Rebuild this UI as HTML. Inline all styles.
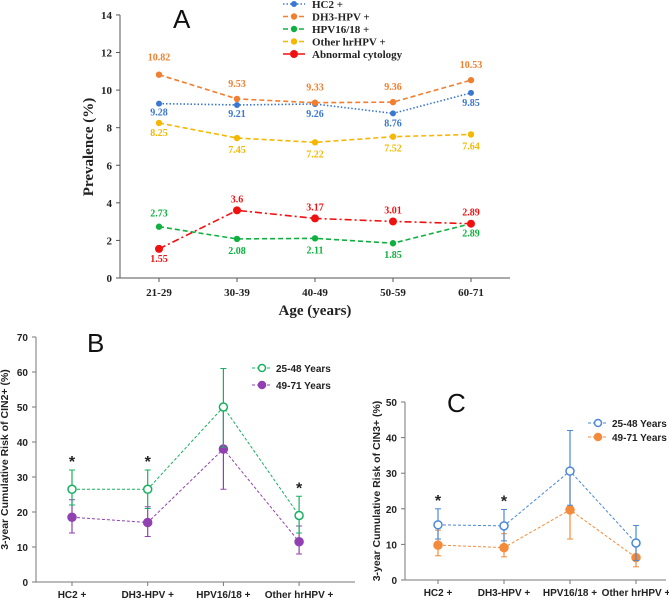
<!DOCTYPE html>
<html><head><meta charset="utf-8"><style>
body{margin:0;background:#fff}
svg{display:block}
.ser{font-family:"Liberation Serif",serif;font-weight:bold}
.san{font-family:"Liberation Sans",sans-serif;font-weight:bold}
</style></head><body>
<svg id="s" width="669" height="600" viewBox="0 0 669 600"></svg>
<script>
// Panel A data
const ageCats=["21-29","30-39","40-49","50-59","60-71"];
const hc2=[9.28,9.21,9.26,8.76,9.85];
const dh3=[10.82,9.53,9.33,9.36,10.53];
const hpv1618=[2.73,2.08,2.11,1.85,2.89];
const otherHr=[8.25,7.45,7.22,7.52,7.64];
const abnCyt=[1.55,3.6,3.17,3.01,2.89];
const aTicks=[0,2,4,6,8,10,12,14];
// Panels B/C
const testCats=["HC2 +","DH3-HPV +","HPV16/18 +","Other hrHPV +"];
const bYoung=[26.5,26.5,50,19];
const bYoungLo=[22,21,38.5,14];
const bYoungHi=[32,32,61,24.5];
const bOld=[18.5,17,38,11.5];
const bOldLo=[14,13,26.5,8];
const bOldHi=[23.5,21.5,49,16];
const bTicks=[0,10,20,30,40,50,60,70];
const cYoung=[15.5,15.2,30.6,10.4];
const cYoungLo=[11.5,11,21,5.5];
const cYoungHi=[20,19.8,42,15.3];
const cOld=[9.8,9.1,19.7,6.3];
const cOldLo=[6.8,6.5,11.5,3.7];
const cOldHi=[14,13,30,9.8];
const cTicks=[0,10,20,30,40,50];

const S=document.getElementById('s');const NS="http://www.w3.org/2000/svg";
function el(t,a,txt){const e=document.createElementNS(NS,t);for(const k in a)e.setAttribute(k,a[k]);if(txt!==undefined)e.textContent=txt;S.appendChild(e);return e;}

// ---- Panel A ----
const ax=i=>159+i*78, ay=v=>278-v*18.79;
let e=el('line',{x1:120,y1:15,x2:120,y2:278,stroke:'#555'});

e=el('line',{x1:120,y1:278,x2:510,y2:278,stroke:'#555'});

aTicks.forEach(t=>{el('line',{x1:116,x2:120,y1:ay(t),y2:ay(t),stroke:'#555'});
 e=el('text',{x:112,y:ay(t)+4,'text-anchor':'end','font-size':11,class:'ser',fill:'#222'},t);
 });
ageCats.forEach((c,i)=>{el('line',{x1:ax(i),x2:ax(i),y1:278,y2:282,stroke:'#555'});
 e=el('text',{x:ax(i),y:296,'text-anchor':'middle','font-size':11,class:'ser',fill:'#222'},c);
 });
e=el('text',{x:315,y:315,'text-anchor':'middle','font-size':15,class:'ser',fill:'#222'},'Age (years)');

e=el('text',{x:0,y:0,'text-anchor':'middle','font-size':15,class:'ser',fill:'#222',transform:'translate(93,147) rotate(-90)'},'Prevalence (%)');

e=el('text',{x:173,y:28,'font-size':26,'font-family':'Liberation Sans,sans-serif',fill:'#111'},'A');

const aSeries=[
 {d:hc2,c:'#3a78d0',dash:'1.5,2',r:3,name:'hc2',lab:'HC2 +',off:[12,12,13,13,13]},
 {d:dh3,c:'#f08030',dash:'5,3',r:3.2,name:'dh3',lab:'DH3-HPV +',off:[-14,-12,-12,-12,-12]},
 {d:hpv1618,c:'#10b040',dash:'5,3',r:3.2,name:'hpv1618',lab:'HPV16/18 +',off:[-10,15,15,15,13]},
 {d:otherHr,c:'#f5b800',dash:'5,3',r:3.2,name:'other-hrhpv',lab:'Other hrHPV +',off:[13,15,15,15,15]},
 {d:abnCyt,c:'#f01010',dash:'7,3,2,3',r:4,name:'abnormal-cytology',lab:'Abnormal cytology',off:[13,-8,-8,-8,-8]}];
aSeries.forEach((s,k)=>{
 const pts=s.d.map((v,i)=>ax(i)+','+ay(v)).join(' ');
 e=el('polyline',{points:pts,fill:'none',stroke:s.c,'stroke-width':1.6,'stroke-dasharray':s.dash});
 
 s.d.forEach((v,i)=>{e=el('circle',{cx:ax(i),cy:ay(v),r:s.r,fill:s.c});
  
  e=el('text',{x:ax(i),y:ay(v)+s.off[i]+(s.off[i]>0?0:0),'text-anchor':'middle','font-size':10,class:'ser',fill:s.c},v);
  });
 const ly=4+k*12.5;
 e=el('line',{x1:283,x2:305,y1:ly,y2:ly,stroke:s.c,'stroke-width':1.6,'stroke-dasharray':s.dash});
 
 el('circle',{cx:294,cy:ly,r:s.r,fill:s.c});
 e=el('text',{x:312,y:ly+4,'font-size':11,class:'ser',fill:'#222'},s.lab);
 
});

// ---- Panels B & C ----
function panel(p){
 const X=i=>p.x0+i*p.dx, Y=v=>p.y0-v*p.k;
 let e=el('line',{x1:p.ax,y1:Y(p.ticks[p.ticks.length-1]),x2:p.ax,y2:p.y0,stroke:'#777'});
 
 e=el('line',{x1:p.ax,y1:p.y0,x2:p.xend,y2:p.y0,stroke:'#777'});
 
 p.ticks.forEach(t=>{el('line',{x1:p.ax-4,x2:p.ax,y1:Y(t),y2:Y(t),stroke:'#777'});
  e=el('text',{x:p.ax-8,y:Y(t)+4,'text-anchor':'end','font-size':10,class:'san',fill:'#222'},t);
  });
 testCats.forEach((c,i)=>{el('line',{x1:X(i),x2:X(i),y1:p.y0,y2:p.y0+4,stroke:'#777'});
  e=el('text',{x:X(i),y:p.y0+16,'text-anchor':'middle','font-size':10,class:'san',fill:'#222'},c);
  });
 e=el('text',{x:0,y:0,'text-anchor':'middle','font-size':10.5,class:'san',fill:'#222',transform:`translate(${p.ylx},${p.y0-(p.y0-Y(p.ticks[p.ticks.length-1]))/2}) rotate(-90)`},p.ytitle);
 
 e=el('text',{x:p.lx,y:p.ly,'font-size':26,'font-family':'Liberation Sans,sans-serif',fill:'#111'},p.label);
 
 const ser=[{d:p.y,lo:p.ylo,hi:p.yhi,c:p.c1,open:true,n:'25-48 Years'},{d:p.o,lo:p.olo,hi:p.ohi,c:p.c2,open:false,n:'49-71 Years'}];
 ser.slice().reverse().forEach(s=>{
  e=el('polyline',{points:s.d.map((v,i)=>X(i)+','+Y(v)).join(' '),fill:'none',stroke:s.c,'stroke-width':1,'stroke-dasharray':'3,2'});
  
  s.d.forEach((v,i)=>{
   e=el('line',{x1:X(i),x2:X(i),y1:Y(s.lo[i]),y2:Y(s.hi[i]),stroke:s.c,'stroke-width':1.2});
   
   el('line',{x1:X(i)-3,x2:X(i)+3,y1:Y(s.lo[i]),y2:Y(s.lo[i]),stroke:s.c});
   el('line',{x1:X(i)-3,x2:X(i)+3,y1:Y(s.hi[i]),y2:Y(s.hi[i]),stroke:s.c});
   e=el('circle',{cx:X(i),cy:Y(v),r:4,fill:s.open?'#fff':s.c,stroke:s.c,'stroke-width':1.5});
   
  });
 });
 p.star.forEach(i=>{const top=Math.max(p.yhi[i],p.ohi[i]);
  e=el('text',{x:X(i),y:Y(top)-3,'text-anchor':'middle','font-size':16,class:'san',fill:'#222'},'*');
  });
 ser.forEach((s,k)=>{const ly=p.legy+k*p.legdy;
  el('line',{x1:p.legx-10,x2:p.legx+10,y1:ly,y2:ly,stroke:s.c,'stroke-dasharray':'3,2'});
  el('circle',{cx:p.legx,cy:ly,r:3.5,fill:s.open?'#fff':s.c,stroke:s.c,'stroke-width':1.5});
  e=el('text',{x:p.legx+14,y:ly+4,'font-size':10,class:'san',fill:'#222'},s.n);
  });
}
panel({id:'b',label:'B',x0:72,dx:75.7,y0:582,k:3.5,ax:36,xend:355,ticks:bTicks,ylx:8,ytitle:'3-year Cumulative Risk of CIN2+ (%)',lx:87,ly:352,
 y:bYoung,ylo:bYoungLo,yhi:bYoungHi,o:bOld,olo:bOldLo,ohi:bOldHi,c1:'#18b060',c2:'#9040b0',star:[0,1,3],legx:262,legy:368,legdy:17});
panel({id:'c',label:'C',x0:438,dx:66,y0:580,k:3.56,ax:405,xend:666,ticks:cTicks,ylx:380,ytitle:'3-year Cumulative Risk of CIN3+ (%)',lx:447,ly:412,
 y:cYoung,ylo:cYoungLo,yhi:cYoungHi,o:cOld,olo:cOldLo,ohi:cOldHi,c1:'#4a88d8',c2:'#f58a3a',star:[0,1],legx:598,legy:423,legdy:14});
</script>
</body></html>
